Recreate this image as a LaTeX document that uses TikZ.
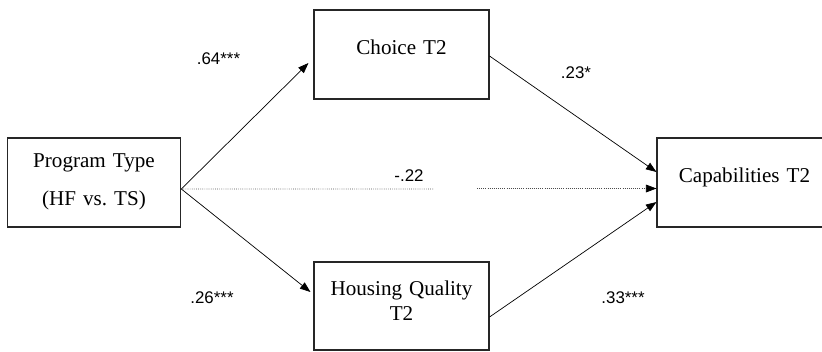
\documentclass[tikz,border=0pt]{standalone}
\usepackage{fontspec}
\setmainfont{Liberation Serif}
\newfontfamily\coeffont{Liberation Sans}
\usetikzlibrary{arrows.meta, calc}
\tikzstyle{box} = [rectangle, draw=black!85, line width=1.2pt, inner sep=0pt, text width=124pt, align=center, font=\fontsize{15}{18}\selectfont]
\tikzstyle{coef} = [inner sep=0pt, font=\coeffont\fontsize{12}{14}\selectfont]
\tikzstyle{arrow} = [line width=0.5pt, -{Triangle[length=7.5pt,width=5.5pt,color=black]}]
\tikzstyle{dotline} = [line width=0.5pt, densely dotted, black!70]

\begin{document}
\begin{tikzpicture}[x=0.025cm, y=-0.025cm]
\useasboundingbox (0,0) rectangle (822,351);

% Boxes
\node (PT) [box, text width=123pt, text height=20.6pt, text depth=42.5pt] at (94,182.5) {Program Type\\[9pt](HF vs.\ TS)};
\node (Ch) [box, text height=31.9pt, text depth=31.2pt] at (401.5,54.5) {Choice T2};
\node (HQ) [box, text height=23.4pt, text depth=39pt] at (401.5,306) {Housing Quality\\T2};
\node (Cap) [box, text height=31.2pt, text depth=31.9pt] at (744.5,182.5) {Capabilities T2};

% Coefficients
\node (c64) [coef] at (218.5,59) {.64***};
\node (c23) [coef] at (576,73) {.23*};
\node (c22) [coef] at (409,176) {-.22};
\node (c26) [coef] at (212,297.5) {.26***};
\node (c33) [coef] at (623,297.5) {.33***};

% Gap in the direct path
\coordinate (gapL) at (433,189);
\coordinate (gapR) at (477,188.5);

% Connecting arrows
\draw [arrow] ($(PT.east)+(0,6.5)$) -- ($(Ch.west)+(-5,8.5)$);
\draw [arrow] ($(PT.east)+(0,6.5)$) -- ($(HQ.west)+(-3,-14)$);
\draw [arrow] ($(Ch.east)+(0,1.5)$) -- ($(Cap.west)+(0,-10.5)$);
\draw [arrow] ($(HQ.east)+(0,11)$) -- ($(Cap.west)+(0,19.5)$);
\draw [dotline] ($(PT.east)+(0,6.5)$) -- (gapL);
\draw [dotline, arrow] (gapR) -- ($(Cap.west)+(0,6)$);

\end{tikzpicture}
\end{document}
